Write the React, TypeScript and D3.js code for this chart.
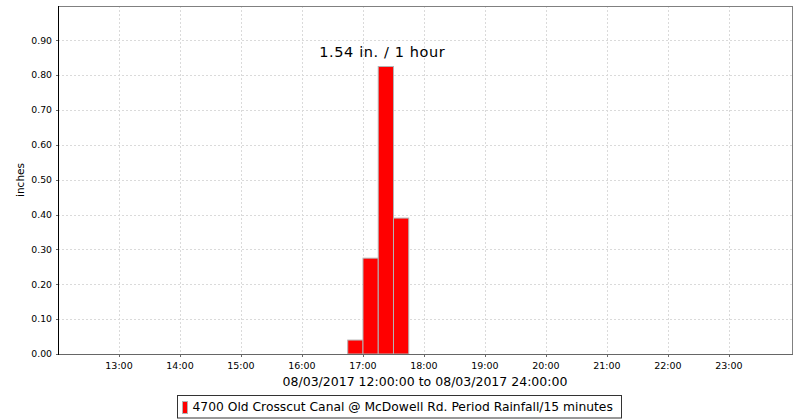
import * as d3 from 'd3';
import React from 'react';

// 15-minute rainfall periods (start time) and amounts in inches
const barStarts = ['16:45', '17:00', '17:15', '17:30'];
const barValues = [0.04, 0.275, 0.825, 0.39];

const yTicks = [0.0, 0.1, 0.2, 0.3, 0.4, 0.5, 0.6, 0.7, 0.8, 0.9];
const xTickHours = [13, 14, 15, 16, 17, 18, 19, 20, 21, 22, 23];

const annotationText = '1.54 in. / 1 hour';
const annotationTime = '17:19';
const annotationValue = 0.853;

const xTitle = '08/03/2017 12:00:00 to 08/03/2017 24:00:00';
const yTitle = 'inches';
const legendLabel = '4700 Old Crosscut Canal @ McDowell Rd. Period Rainfall/15 minutes';

const params = {
    width: 800,
    height: 420,
    left: 58,
    top: 6,
    right: 792,
    bottom: 354,
};

const day = '2017-08-03';
const parseTime = (t: string) => new Date(`${day}T${t}:00`);

const App = () => {
    const x = d3.scaleTime()
        .domain([parseTime('12:00'), new Date('2017-08-04T00:02:00')])
        .range([params.left, params.right]);
    const y = d3.scaleLinear().domain([0, 0.9986]).range([params.bottom, params.top]);
    const font = '"DejaVu Sans", sans-serif';
    const fmt = d3.format('.2f');
    const hourDate = (h: number) => new Date(2017, 7, 3, h, 0, 0);

    const bars = barStarts.map((s, i) => {
        const start = parseTime(s);
        const end = d3.timeMinute.offset(start, 15);
        return (
            <rect key={s}
                x={x(start)} y={y(barValues[i])}
                width={x(end) - x(start)} height={y(0) - y(barValues[i])}
                fill="#ff0000" stroke="#b4b4b4" strokeWidth={1}></rect>
        );
    });

    return (
        <div style={{ position: 'absolute', left: 0, top: 0 }}>
            <svg width={params.width} height={params.height} style={{ display: 'block', background: '#fff' }}>
                <rect x={0} y={0} width={params.width} height={params.height} fill="#fff"></rect>
                {/* grid */}
                <g stroke="#dadada" strokeDasharray="2,2" strokeWidth={1}>
                    {yTicks.filter(t => t > 0).map(t => (
                        <line key={t} x1={params.left} x2={params.right} y1={Math.round(y(t)) + 0.5} y2={Math.round(y(t)) + 0.5}></line>
                    ))}
                    {xTickHours.map(h => (
                        <line key={h} x1={Math.round(x(hourDate(h))) + 0.5} x2={Math.round(x(hourDate(h))) + 0.5} y1={params.top} y2={params.bottom}></line>
                    ))}
                </g>
                {/* bars */}
                <g>{bars}</g>
                {/* frame */}
                <line x1={params.left} x2={params.right + 0.5} y1={params.top + 0.5} y2={params.top + 0.5} stroke="#808080"></line>
                <line x1={params.right + 0.5} x2={params.right + 0.5} y1={params.top} y2={params.bottom} stroke="#808080"></line>
                <line x1={params.left} x2={params.right + 1} y1={params.bottom + 0.5} y2={params.bottom + 0.5} stroke="#666"></line>
                <line x1={params.left + 0.5} x2={params.left + 0.5} y1={params.top} y2={params.bottom + 1} stroke="#000"></line>
                {/* y axis */}
                <g fontFamily={font} fontSize={9.3} fill="#000">
                    {yTicks.map(t => (
                        <g key={t}>
                            <line x1={params.left - 2} x2={params.left} y1={Math.round(y(t)) + 0.5} y2={Math.round(y(t)) + 0.5} stroke="#666"></line>
                            <text x={params.left - 6} y={y(t)} dy="0.35em" textAnchor="end">{fmt(t)}</text>
                        </g>
                    ))}
                </g>
                {/* x axis */}
                <g fontFamily={font} fontSize={9.5} fill="#000">
                    {xTickHours.map(h => (
                        <g key={h}>
                            <line x1={Math.round(x(hourDate(h))) + 0.5} x2={Math.round(x(hourDate(h))) + 0.5} y1={params.bottom} y2={params.bottom + 3} stroke="#666"></line>
                            <text x={x(hourDate(h))} y={369} textAnchor="middle">{d3.timeFormat('%H:%M')(hourDate(h))}</text>
                        </g>
                    ))}
                </g>
                <text x={(params.left + params.right) / 2} y={386} textAnchor="middle" fontFamily={font} fontSize={12.5}>{xTitle}</text>
                <text transform={`translate(24,${(params.top + params.bottom) / 2}) rotate(-90)`} textAnchor="middle" fontFamily={font} fontSize={10.5}>{yTitle}</text>
                {/* annotation */}
                <text x={x(parseTime(annotationTime))} y={y(annotationValue)} textAnchor="middle" fontFamily={font} fontSize={14.5} letterSpacing={0.6}>{annotationText}</text>
                {/* legend */}
                <rect x={177.5} y={395.5} width={444} height={22.5} fill="#fff" stroke="#333"></rect>
                <rect x={182.5} y={401.5} width={5} height={12} fill="#ff0000" stroke="#b4b4b4"></rect>
                <text x={192.5} y={411} fontFamily={font} fontSize={12.3}>{legendLabel}</text>
            </svg>
        </div>
    );
};

export default App;
